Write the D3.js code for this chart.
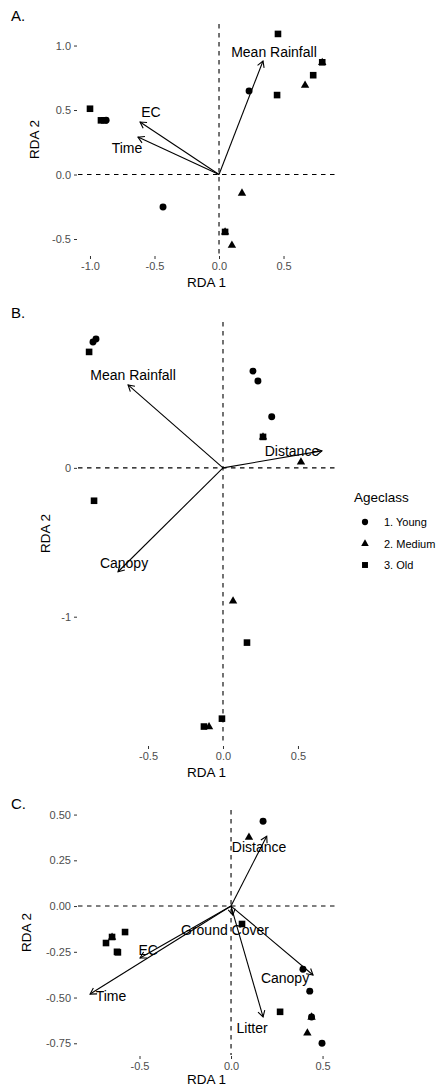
<!DOCTYPE html>
<html>
<head>
<meta charset="utf-8">
<script src="https://cdn.jsdelivr.net/npm/d3@7"></script>
<style>
  html, body { margin: 0; padding: 0; background: #fff; }
  svg { display: block; font-family: "Liberation Sans", Arial, Helvetica, sans-serif; }
</style>
</head>
<body>
<svg id="chart" width="437" height="1088"></svg>
<script>
// Age classes: 1 = Young (circle), 2 = Medium (triangle), 3 = Old (square)
const ageClasses = ["1. Young", "2. Medium", "3. Old"];

// Panel A: site scores [RDA1, RDA2, age class]
const sitesA = [
  [-1.00, 0.51, 3], [-0.915, 0.42, 3], [-0.89, 0.42, 3], [-0.875, 0.42, 1],
  [0.233, 0.647, 1], [0.457, 1.09, 3], [0.45, 0.616, 3], [0.667, 0.694, 2],
  [0.73, 0.77, 3], [0.80, 0.87, 3], [0.80, 0.87, 2], [0.178, -0.143, 2],
  [-0.434, -0.252, 1], [0.047, -0.445, 3], [0.047, -0.445, 2], [0.10, -0.547, 2]
];
// Panel A: environmental vectors [name, RDA1, RDA2, labelX, labelY]
const vectorsA = [
  ["Mean Rainfall", 0.341, 0.88, 0.426, 0.95],
  ["EC", -0.612, 0.407, -0.527, 0.486],
  ["Time", -0.628, 0.29, -0.713, 0.206]
];

// Panel B
const sitesB = [
  [-0.847, 0.866, 1], [-0.867, 0.846, 1], [-0.893, 0.779, 3],
  [0.20, 0.65, 1], [0.233, 0.584, 1], [0.325, 0.343, 1],
  [0.267, 0.208, 3], [0.267, 0.208, 2], [0.52, 0.04, 2],
  [-0.86, -0.221, 3], [0.067, -0.893, 2], [0.16, -1.174, 3],
  [-0.007, -1.685, 3], [-0.127, -1.738, 3], [-0.093, -1.738, 2]
];
const vectorsB = [
  ["Mean Rainfall", -0.633, 0.557, -0.60, 0.624],
  ["Distance", 0.66, 0.114, 0.46, 0.114],
  ["Canopy", -0.70, -0.698, -0.66, -0.638]
];

// Panel C
const sitesC = [
  [0.175, 0.464, 1], [0.098, 0.377, 2], [0.06, -0.098, 3],
  [-0.579, -0.142, 3], [-0.65, -0.169, 3], [-0.65, -0.169, 2], [-0.683, -0.202, 3],
  [-0.623, -0.25, 3], [-0.618, -0.253, 3],
  [0.393, -0.345, 1], [0.43, -0.465, 1], [0.268, -0.578, 3],
  [0.44, -0.606, 1], [0.44, -0.606, 2], [0.417, -0.693, 2], [0.497, -0.75, 1]
];
const vectorsC = [
  ["Distance", 0.195, 0.382, 0.153, 0.322],
  ["Ground Cover", 0.01, -0.05, -0.033, -0.131],
  ["EC", -0.497, -0.284, -0.453, -0.24],
  ["Time", -0.77, -0.481, -0.656, -0.492],
  ["Canopy", 0.448, -0.377, 0.295, -0.393],
  ["Litter", 0.175, -0.606, 0.115, -0.667]
];

// Axis ticks per panel
const ticksA_x = [-1.0, -0.5, 0.0, 0.5];
const ticksA_y = [-0.5, 0.0, 0.5, 1.0];
const ticksB_x = [-0.5, 0.0, 0.5];
const ticksB_y = [-1, 0];
const ticksC_x = [-0.5, 0.0, 0.5];
const ticksC_y = [-0.75, -0.5, -0.25, 0.0, 0.25, 0.5];

// Axis limits per panel
const limitsA = { x: [-1.093, 0.899], y: [-0.624, 1.167] };
const limitsB = { x: [-0.967, 0.747], y: [-1.862, 0.98] };
const limitsC = { x: [-0.836, 0.568], y: [-0.814, 0.525] };

const svg = d3.select("#chart");

function symbolPath(cls) {
  if (cls === 1) return d3.symbol(d3.symbolCircle, 38)();
  if (cls === 2) return "M0,-4.6L4.2,2.7L-4.2,2.7Z";
  return "M-3.3,-3.3H3.3V3.3H-3.3Z";
}

function drawPanel(opt) {
  const { tag, sites, vectors, ticksX, ticksY, fmtX, fmtY, limits, box, yTitleX, xTitleGap } = opt;
  const x = d3.scaleLinear().domain(limits.x).range([box.left, box.right]);
  const y = d3.scaleLinear().domain(limits.y).range([box.bottom, box.top]);
  const g = svg.append("g");

  // Panel tag
  g.append("text").attr("x", 11).attr("y", box.top - 3 - opt.tagOffset)
    .attr("font-size", 15).attr("fill", "#000").text(tag);

  // Reference lines through the origin
  g.append("line").attr("x1", box.left).attr("x2", box.right)
    .attr("y1", y(0)).attr("y2", y(0))
    .attr("stroke", "#000").attr("stroke-width", 1.1).attr("stroke-dasharray", "4.5,4.5");
  g.append("line").attr("x1", x(0)).attr("x2", x(0))
    .attr("y1", box.top).attr("y2", box.bottom)
    .attr("stroke", "#000").attr("stroke-width", 1.1).attr("stroke-dasharray", "4.5,4.5");

  // Axes (tick marks and labels only)
  const ax = d3.axisBottom(x).tickValues(ticksX).tickFormat(fmtX).tickSize(3).tickPadding(3);
  const ay = d3.axisLeft(y).tickValues(ticksY).tickFormat(fmtY).tickSize(3).tickPadding(3);
  const gx = g.append("g").attr("transform", `translate(0,${box.bottom + 1})`).call(ax);
  const gy = g.append("g").attr("transform", `translate(${box.left - 1},0)`).call(ay);
  [gx, gy].forEach(a => {
    a.select(".domain").remove();
    a.selectAll(".tick line").attr("stroke", "#333").attr("stroke-width", 1);
    a.selectAll(".tick text").attr("fill", "#4D4D4D").attr("font-size", 11)
      .attr("font-family", "Liberation Sans, Arial, sans-serif");
  });

  // Axis titles
  g.append("text").attr("x", (box.left + box.right) / 2).attr("y", box.bottom + xTitleGap)
    .attr("text-anchor", "middle").attr("font-size", 13.5).text("RDA 1");
  g.append("text")
    .attr("transform", `translate(${yTitleX},${(box.top + box.bottom) / 2}) rotate(-90)`)
    .attr("text-anchor", "middle").attr("font-size", 13.5).text("RDA 2");

  // Site points
  g.selectAll("path.site").data(sites).join("path").attr("class", "site")
    .attr("transform", d => `translate(${x(d[0])},${y(d[1])})`)
    .attr("d", d => symbolPath(d[2])).attr("fill", "#000");

  // Environmental vectors with open arrowheads
  vectors.forEach(v => {
    const x0 = x(0), y0 = y(0), x1 = x(v[1]), y1 = y(v[2]);
    g.append("line").attr("x1", x0).attr("y1", y0).attr("x2", x1).attr("y2", y1)
      .attr("stroke", "#000").attr("stroke-width", 1.1);
    const ang = Math.atan2(y1 - y0, x1 - x0);
    const len = 7, spread = Math.PI / 6;
    const pts = [ang + Math.PI - spread, ang + Math.PI + spread].map(a =>
      [x1 + len * Math.cos(a), y1 + len * Math.sin(a)]);
    g.append("path")
      .attr("d", `M${pts[0][0]},${pts[0][1]}L${x1},${y1}L${pts[1][0]},${pts[1][1]}`)
      .attr("fill", "none").attr("stroke", "#000").attr("stroke-width", 1.1);
    g.append("text").attr("x", x(v[3])).attr("y", y(v[4]))
      .attr("text-anchor", "middle").attr("dominant-baseline", "central")
      .attr("font-size", 14).attr("fill", "#000").text(v[0]);
  });
}

const fmt1 = d => d3.format(".1f")(d).replace("−", "-");
const fmt0 = d => d3.format("d")(d).replace("−", "-");
const fmt2 = d => d3.format(".2f")(d).replace("−", "-");

drawPanel({ tag: "A.", sites: sitesA, vectors: vectorsA, ticksX: ticksA_x, ticksY: ticksA_y,
  fmtX: fmt1, fmtY: fmt1, limits: limitsA,
  box: { left: 78, right: 335, top: 24, bottom: 255 }, yTitleX: 39, tagOffset: 0, xTitleGap: 32 });
drawPanel({ tag: "B.", sites: sitesB, vectors: vectorsB, ticksX: ticksB_x, ticksY: ticksB_y,
  fmtX: fmt1, fmtY: fmt0, limits: limitsB,
  box: { left: 78, right: 335, top: 322, bottom: 745 }, yTitleX: 50, tagOffset: 1, xTitleGap: 32 });
drawPanel({ tag: "C.", sites: sitesC, vectors: vectorsC, ticksX: ticksC_x, ticksY: ticksC_y,
  fmtX: fmt1, fmtY: fmt2, limits: limitsC,
  box: { left: 78, right: 335, top: 810, bottom: 1055 }, yTitleX: 31, tagOffset: -2, xTitleGap: 29 });

// Legend
const legend = svg.append("g").attr("transform", "translate(354,0)");
legend.append("text").attr("x", 0).attr("y", 502).attr("font-size", 13.5).text("Ageclass");
legend.selectAll("g.item").data(ageClasses).join("g").attr("class", "item")
  .attr("transform", (d, i) => `translate(11,${522 + i * 21.5})`)
  .each(function (d, i) {
    const s = d3.select(this);
    s.append("path").attr("d", symbolPath(i + 1)).attr("fill", "#000")
      .attr("transform", "scale(0.9)");
    s.append("text").attr("x", 19).attr("y", 0).attr("dominant-baseline", "central")
      .attr("font-size", 11).text(d);
  });
</script>
</body>
</html>
